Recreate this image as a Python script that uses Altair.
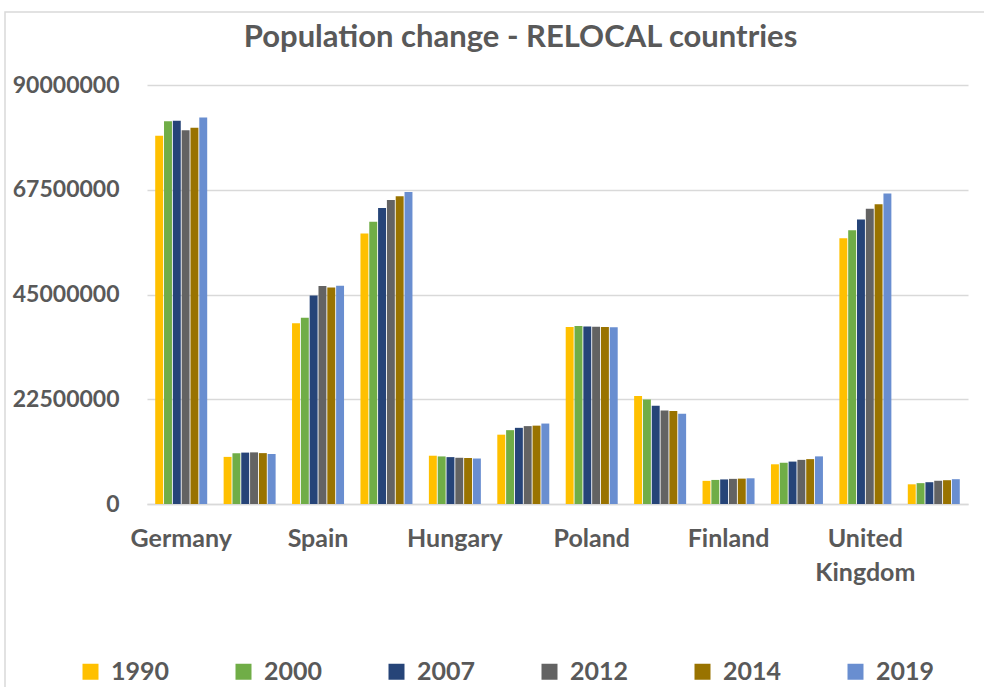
import altair as alt
import pandas as pd

countries = ["Germany", "Greece", "Spain", "France", "Hungary", "Netherlands",
             "Poland", "Romania", "Finland", "Sweden", "United Kingdom", "Norway"]
years = ["1990", "2000", "2007", "2012", "2014", "2019"]
colors = ["#FFC000", "#70AD47", "#264478", "#636363", "#997300", "#698ED0"]

pop_1990 = [79100000, 10120000, 38800000, 58100000, 10370000, 14890000,
            38040000, 23200000, 4970000, 8530000, 57100000, 4230000]
pop_2000 = [82200000, 10900000, 40000000, 60600000, 10220000, 15860000,
            38260000, 22450000, 5170000, 8860000, 58800000, 4480000]
pop_2007 = [82300000, 11040000, 44800000, 63600000, 10070000, 16360000,
            38130000, 21130000, 5280000, 9110000, 61100000, 4680000]
pop_2012 = [80300000, 11090000, 46800000, 65300000, 9930000, 16730000,
            38060000, 20100000, 5400000, 9480000, 63400000, 4990000]
pop_2014 = [80800000, 10930000, 46500000, 66100000, 9880000, 16830000,
            38020000, 19950000, 5450000, 9640000, 64400000, 5110000]
pop_2019 = [83000000, 10720000, 46900000, 67000000, 9770000, 17280000,
            37970000, 19410000, 5520000, 10230000, 66700000, 5330000]

y_ticks = [0, 22500000, 45000000, 67500000, 90000000]

series = [pop_1990, pop_2000, pop_2007, pop_2012, pop_2014, pop_2019]
rows = []
for yr, vals in zip(years, series):
    for c, v in zip(countries, vals):
        rows.append({"country": c, "year": yr, "population": v})
df = pd.DataFrame(rows)

FONT = "Lato"
TXT = "#595959"
GRID = "#D9D9D9"

label_expr = ("datum.value == 'United Kingdom' ? ['United', 'Kingdom'] : "
              "(indexof(['Germany','Spain','Hungary','Poland','Finland'], datum.value) >= 0 ? datum.value : '')")

bars = alt.Chart(df).mark_bar().encode(
    x=alt.X("country:N", sort=countries,
            scale=alt.Scale(paddingInner=0.24, paddingOuter=0.12),
            axis=alt.Axis(title=None, labelExpr=label_expr, labelAngle=0, ticks=False,
                          domainColor=GRID, domainWidth=1.5, labelPadding=22,
                          labelFontSize=25, labelFont=FONT, labelFontWeight="bold",
                          labelColor=TXT, labelLineHeight=34, labelOverlap=False,
                          labelBound=False, labelLimit=0)),
    xOffset=alt.XOffset("year:N", sort=years, scale=alt.Scale(paddingInner=0.1)),
    y=alt.Y("population:Q", scale=alt.Scale(domain=[0, 90000000]),
            axis=alt.Axis(title=None, values=y_ticks, format="d", ticks=False, domain=False,
                          gridColor=GRID, gridWidth=1.5, labelPadding=28,
                          labelFontSize=23, labelFont=FONT, labelFontWeight="bold",
                          labelColor=TXT)),
    color=alt.Color("year:N", sort=years,
                    scale=alt.Scale(domain=years, range=colors),
                    legend=alt.Legend(title=None, orient="none", legendX=-69, legendY=574,
                                      direction="horizontal", columns=6, columnPadding=61,
                                      symbolType="square", symbolSize=256, symbolStrokeWidth=0,
                                      labelFontSize=25, labelFont=FONT, labelFontWeight="bold",
                                      labelColor=TXT, labelOffset=8)),
)

border = alt.Chart(alt.Data(values=[{}])).mark_rect(
    filled=False, stroke=GRID, strokeWidth=1.5
).encode(x=alt.value(-142), x2=alt.value(860), y=alt.value(-73), y2=alt.value(620))

chart = alt.layer(border, bars).properties(
    width=821, height=419,
    autosize="none",
    padding={"left": 147, "top": 85, "right": 16, "bottom": 183},
    title=alt.TitleParams("Population change - RELOCAL countries", fontSize=31, font=FONT,
                          fontWeight="bold", color=TXT, anchor="middle", dx=-37,
                          baseline="alphabetic", offset=-67),
).configure_view(stroke=None)

chart.save("out.html", embed_options={"renderer": "svg", "actions": False})
